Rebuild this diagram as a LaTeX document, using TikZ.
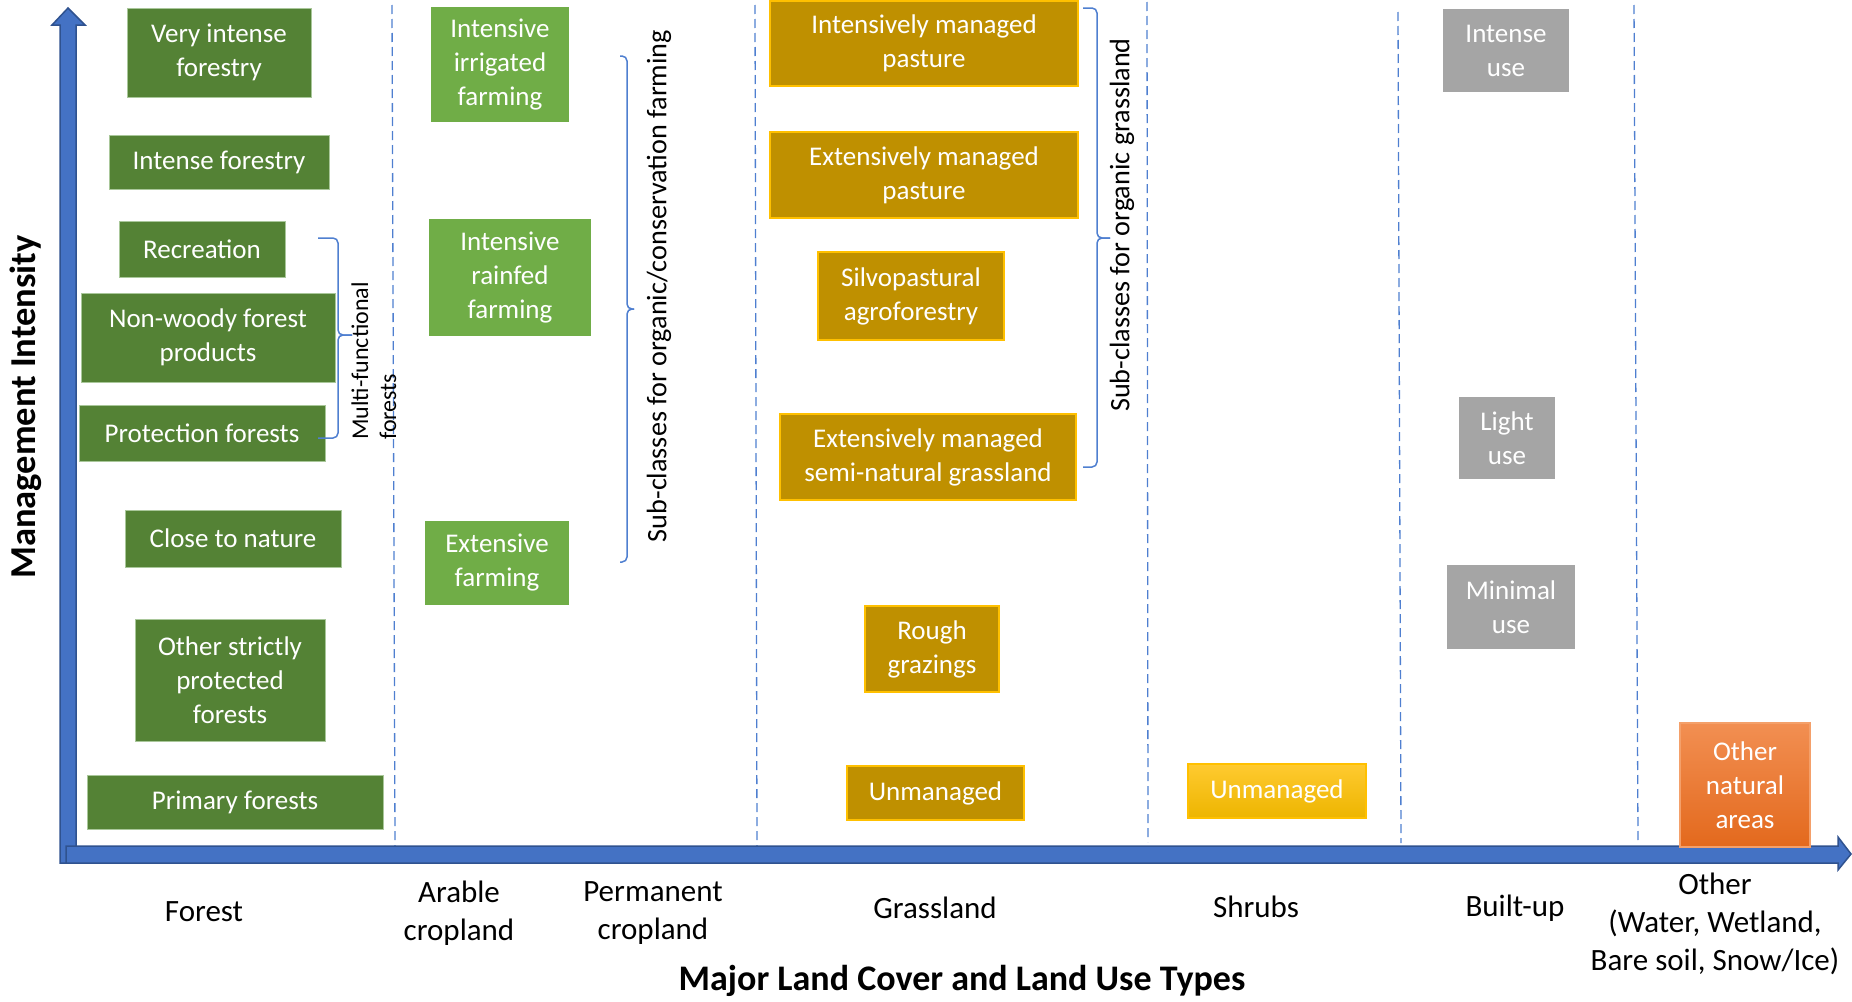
\documentclass[tikz,border=0pt]{standalone}
\usepackage{fontspec}
\setmainfont{Carlito}
\definecolor{forestG}{HTML}{548235}
\definecolor{forestE}{HTML}{A9C79A}
\definecolor{arableG}{HTML}{70AD47}
\definecolor{grassF}{HTML}{BF9000}
\definecolor{grassE}{HTML}{FFC000}
\definecolor{shrubT}{HTML}{FFCA30}
\definecolor{shrubB}{HTML}{EDB500}
\definecolor{builtG}{HTML}{A5A5A5}
\definecolor{orangeT}{HTML}{F28F52}
\definecolor{orangeB}{HTML}{E3691D}
\definecolor{orangeE}{HTML}{F4A06A}
\definecolor{axisF}{HTML}{4472C4}
\definecolor{axisE}{HTML}{2F528F}
\definecolor{lineB}{HTML}{4F7FD0}
\newcommand\lcBoxFont{\fontsize{27}{34}\selectfont}
\newcommand\lcCatFont{\fontsize{31}{38}\selectfont}
\begin{document}
\begin{tikzpicture}[x=1pt,y=-1pt,
  box/.style={rectangle, inner sep=0pt, align=center, text=white, font=\lcBoxFont},
  forestbox/.style={box, fill=forestG, draw=forestE, line width=1pt},
  arablebox/.style={box, fill=arableG},
  grassbox/.style={box, fill=grassF, draw=grassE, line width=1.5pt},
  shrubbox/.style={box, top color=shrubT, bottom color=shrubB, draw=grassE, line width=1.5pt},
  builtbox/.style={box, fill=builtG},
  otherbox/.style={box, top color=orangeT, bottom color=orangeB, draw=orangeE, line width=1.5pt},
  catlabel/.style={align=center, inner sep=0pt, font=\lcCatFont},
  sublabel/.style={rotate=90, inner sep=0pt, font=\fontsize{28.2}{34}\selectfont},
  divider/.style={draw=lineB, line width=1.3pt, dash pattern=on 9pt off 5pt},
  bracket/.style={draw=lineB, line width=1.5pt, rounded corners=5pt},
  axisarrow/.style={fill=axisF, draw=axisE, line width=1.5pt, line join=miter}
]
\useasboundingbox (0,0) rectangle (1852,1001);

% dividers
\draw[divider] (392,5) -- (395,846);
\draw[divider] (755,5) -- (757,846);
\draw[divider] (1147,2) -- (1148,842);
\draw[divider] (1398,12) -- (1401,843);
\draw[divider] (1634,5) -- (1638,843);

% axes
\draw[axisarrow] (60,863) -- (60,25) -- (52,25) -- (68,8) -- (85,25) -- (76,25) -- (76,863) -- cycle;
\draw[axisarrow] (66,846) -- (1838,846) -- (1838,837) -- (1851,854) -- (1838,870) -- (1838,863) -- (66,863) -- cycle;

% forest
\node[forestbox, minimum width=184, minimum height=89] (vif) at (219,52.5) {Very intense\\forestry};
\node[forestbox, minimum width=220, minimum height=54] (inf) at (219,162) {Intense forestry};
\node[forestbox, minimum width=166, minimum height=56] (rec) at (202,249) {Recreation};
\node[forestbox, minimum width=254, minimum height=89] (nwf) at (208,337.5) {Non-woody forest\\products};
\node[forestbox, minimum width=246, minimum height=56] (prf) at (202,433) {Protection forests};
\node[forestbox, minimum width=216, minimum height=57] (ctn) at (233,538.5) {Close to nature};
\node[forestbox, minimum width=190, minimum height=122] (osp) at (230,680) {Other strictly\\protected\\forests};
\node[forestbox, minimum width=296, minimum height=54] (pri) at (235,802) {Primary forests};

% arable
\node[arablebox, minimum width=138, minimum height=115] (iif) at (500,64.5) {Intensive\\irrigated\\farming};
\node[arablebox, minimum width=162, minimum height=117] (irf) at (510,277.5) {Intensive\\rainfed\\farming};
\node[arablebox, minimum width=144, minimum height=84] (exf) at (497,563) {Extensive\\farming};

% grassland
\node[grassbox, minimum width=308, minimum height=85] (imp) at (924,43.5) {Intensively managed\\pasture};
\node[grassbox, minimum width=308, minimum height=86] (emp) at (924,175) {Extensively managed\\pasture};
\node[grassbox, minimum width=186, minimum height=88] (sil) at (911,296) {Silvopastural\\agroforestry};
\node[grassbox, minimum width=296, minimum height=86] (sng) at (928,457) {Extensively managed\\semi-natural grassland};
\node[grassbox, minimum width=134, minimum height=86] (rgz) at (932,649) {Rough\\grazings};
\node[grassbox, minimum width=177, minimum height=54] (gun) at (935.5,793) {Unmanaged};

% shrubs
\node[shrubbox, minimum width=178, minimum height=54] (sun) at (1277,791) {Unmanaged};

% built-up
\node[builtbox, minimum width=126, minimum height=83] (ius) at (1506,50.5) {Intense\\use};
\node[builtbox, minimum width=96, minimum height=82] (lus) at (1507,438) {Light\\use};
\node[builtbox, minimum width=128, minimum height=84] (mus) at (1511,607) {Minimal\\use};

% other
\node[otherbox, minimum width=130, minimum height=124] (ona) at (1745,785) {Other\\natural\\areas};

% brackets
\draw[bracket] (318,238) -- (338,238) -- (338,335) -- (352,335);
\draw[bracket] (318,438) -- (338,438) -- (338,335) -- (352,335);
\draw[bracket] (620,56) -- (627,56) -- (627,309) -- (634,309);
\draw[bracket] (620,562) -- (627,562) -- (627,309) -- (634,309);
\draw[bracket] (1083,8) -- (1097,8) -- (1097,238) -- (1110,238);
\draw[bracket] (1083,467) -- (1097,467) -- (1097,238) -- (1110,238);

% bracket labels
\node[rotate=90, anchor=west, align=left, inner sep=0pt, font=\fontsize{24}{28}\selectfont] (mff) at (374,440) {Multi-functional\\forests};
\node[sublabel] (sca) at (659,286) {Sub-classes for organic/conservation farming};
\node[sublabel] (scg) at (1122,225) {Sub-classes for organic grassland};

% category labels
\node[catlabel] (lfo) at (204,912) {Forest};
\node[catlabel] (lar) at (459,913) {Arable\\cropland};
\node[catlabel] (lpe) at (653,913) {Permanent\\cropland};
\node[catlabel] (lgr) at (935,908) {Grassland};
\node[catlabel] (lsh) at (1256,907) {Shrubs};
\node[catlabel] (lbu) at (1515,908) {Built-up};
\node[catlabel] (lot) at (1715,924) {Other\\(Water, Wetland,\\Bare soil, Snow/Ice)};

% axis titles
\node[inner sep=0pt, font=\bfseries\fontsize{36}{42}\selectfont] (xt) at (962,981) {Major Land Cover and Land Use Types};
\node[rotate=90, inner sep=0pt, font=\bfseries\fontsize{36.5}{43}\selectfont] (yt) at (26,407) {Management Intensity};
\end{tikzpicture}
\end{document}
